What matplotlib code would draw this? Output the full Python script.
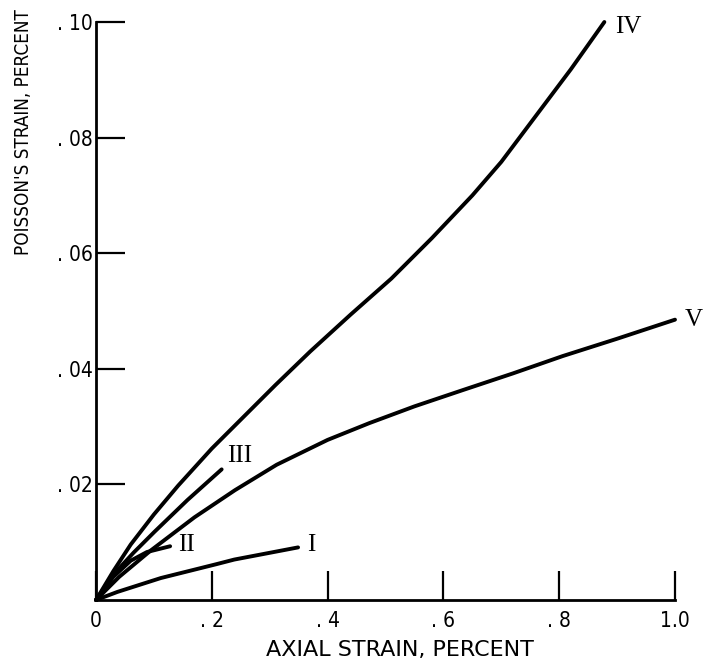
import matplotlib.pyplot as plt
from matplotlib import font_manager

# curve data (axial strain, Poisson's strain; both percent)
x_I = [0, 0.037, 0.112, 0.208, 0.239, 0.349]
y_I = [0, 0.0014, 0.0038, 0.0062, 0.0070, 0.0091]

x_II = [0, 0.03, 0.06, 0.088, 0.128]
y_II = [0, 0.0040, 0.0068, 0.0083, 0.0093]

x_III = [0, 0.03, 0.065, 0.101, 0.158, 0.217]
y_III = [0, 0.0044, 0.0082, 0.0118, 0.0173, 0.0226]

x_IV = [0, 0.03, 0.06, 0.10, 0.142, 0.20, 0.25, 0.31, 0.37, 0.44, 0.51, 0.58, 0.65,
        0.70, 0.76, 0.82, 0.878]
y_IV = [0, 0.0050, 0.0096, 0.0148, 0.0198, 0.0262, 0.0312, 0.0372, 0.0430, 0.0494, 0.0556,
        0.0626, 0.0700, 0.0758, 0.0838, 0.0918, 0.1000]

x_V = [0, 0.04, 0.095, 0.17, 0.24, 0.312, 0.40, 0.472, 0.55, 0.633, 0.72, 0.806, 0.90, 1.0]
y_V = [0, 0.0040, 0.0086, 0.0143, 0.0190, 0.0234, 0.0277, 0.0306, 0.0335, 0.0363, 0.0392,
       0.0422, 0.0452, 0.0485]

curve_names = ['I', 'II', 'III', 'IV', 'V']
# where each roman numeral sits (data coords, left edge / vertical centre)
name_x = [0.364, 0.141, 0.227, 0.896, 1.016]
name_y = [0.0095, 0.0095, 0.0250, 0.0992, 0.0484]

xticks = [0, 0.2, 0.4, 0.6, 0.8, 1.0]
xtick_labels = ['0', '. 2', '. 4', '. 6', '. 8', '1.0']
yticks = [0.02, 0.04, 0.06, 0.08, 0.10]
ytick_labels = ['. 02', '. 04', '. 06', '. 08', '. 10']

available = {f.name for f in font_manager.fontManager.ttflist}
serif = 'Liberation Serif' if 'Liberation Serif' in available else 'DejaVu Serif'
sans = 'DejaVu Sans'

fig = plt.figure(figsize=(7.03, 6.72), dpi=100)
ax = fig.add_axes([96 / 703, 1 - 600 / 672, 579 / 703, 578 / 672])

curves = [(x_I, y_I), (x_II, y_II), (x_III, y_III), (x_IV, y_IV), (x_V, y_V)]
for xs, ys in curves:
    ax.plot(xs, ys, color='black', lw=2.8, solid_capstyle='round',
            solid_joinstyle='round', clip_on=False)

for name, tx, ty in zip(curve_names, name_x, name_y):
    ax.text(tx, ty, name, family=serif, fontsize=18, ha='left', va='center')

ax.set_xlim(0, 1.0)
ax.set_ylim(0, 0.10)
ax.spines['top'].set_visible(False)
ax.spines['right'].set_visible(False)
for side in ['left', 'bottom']:
    ax.spines[side].set_linewidth(2.0)

ax.set_xticks(xticks)
ax.set_xticklabels(xtick_labels, family=sans, fontstretch='condensed', fontsize=15)
ax.set_yticks(yticks)
ax.set_yticklabels(ytick_labels, family=sans, fontstretch='condensed', fontsize=15)
ax.tick_params(axis='x', direction='in', length=21, width=1.6, pad=8)
ax.tick_params(axis='y', direction='in', length=21, width=1.6, pad=2)

fig.text(400 / 703, 1 - 650 / 672, 'AXIAL STRAIN, PERCENT', family=sans, fontsize=16,
         ha='center', va='center')
fig.text(24 / 703, 1 - 9 / 672, "POISSON'S STRAIN, PERCENT", family=sans,
         fontstretch='condensed', fontsize=13.5, rotation=90, ha='center', va='top')

fig.savefig('out.png', dpi=100)
